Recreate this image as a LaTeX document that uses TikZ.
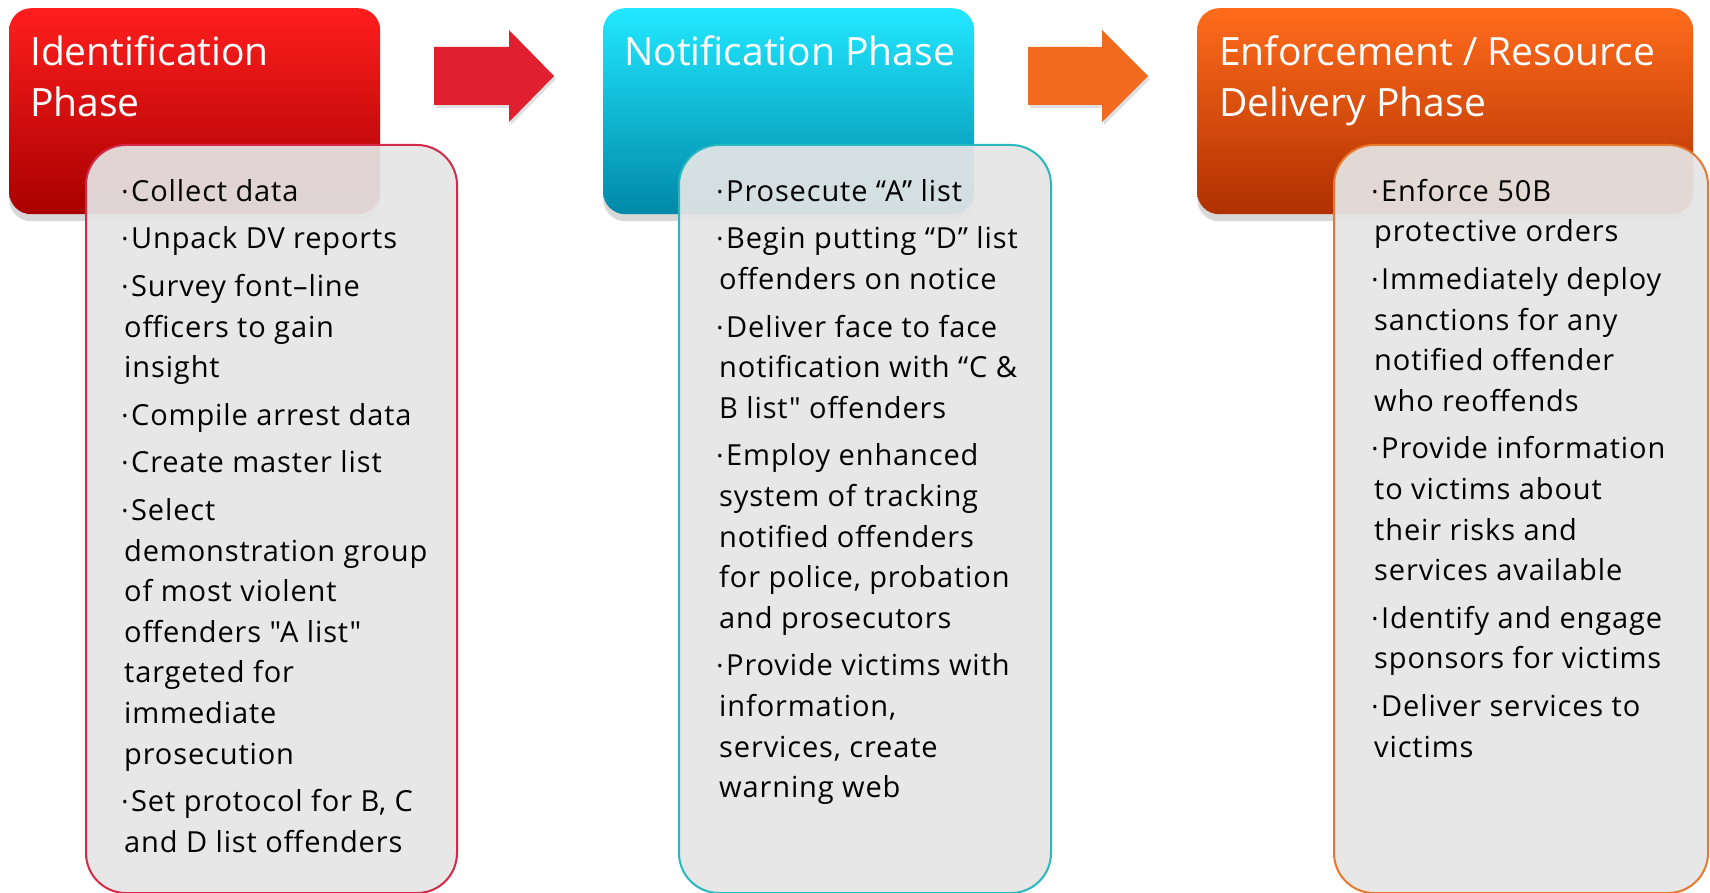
\documentclass[tikz,border=0pt]{standalone}
\usepackage{fontspec}
\newfontfamily\hdrfont{Open Sans}
\newfontfamily\bodyfont{Open Sans}[LetterSpace=3]
\usetikzlibrary{shadows}
\definecolor{redtop}{HTML}{FF1E1E}
\definecolor{redbot}{HTML}{A80000}
\definecolor{cyantop}{HTML}{22E8FF}
\definecolor{cyanbot}{HTML}{0088A8}
\definecolor{orgtop}{HTML}{FF6C1C}
\definecolor{orgbot}{HTML}{B03000}
\definecolor{redline}{HTML}{D42A48}
\definecolor{cyanline}{HTML}{28B8C0}
\definecolor{orgline}{HTML}{E8782E}
\definecolor{redarrow}{HTML}{E0202E}
\definecolor{orgarrow}{HTML}{F26A1E}
\definecolor{bodyfill}{HTML}{E6E6E6}
\newcommand{\bul}{\hspace*{-2pt}\makebox[9pt][l]{\raisebox{4pt}{\fontsize{15}{15}\selectfont\textbullet}}}
\tikzset{
  hdr/.style={rounded corners=22pt, inner sep=0pt, minimum height=206pt, anchor=north west,
    drop shadow={shadow xshift=0pt, shadow yshift=-7pt, opacity=0.3}},
  bodybox/.style={rounded corners=40pt, inner sep=0pt, fill=bodyfill, fill opacity=0.92,
    line width=2pt, minimum width=371pt, minimum height=748pt, anchor=north west},
  hdrtext/.style={anchor=north west, inner sep=0pt, align=left, text=white,
    font=\hdrfont\fontsize{39}{51}\selectfont},
  listtext/.style={anchor=north west, inner sep=0pt, align=left, text=black,
    font=\bodyfont\fontsize{29}{40.6}\selectfont},
  blockarrow/.style={drop shadow={shadow xshift=2pt, shadow yshift=-3pt, opacity=0.25}}
}
\begin{document}
\begin{tikzpicture}[x=1pt,y=-1pt]
\useasboundingbox (0,0) rectangle (1710,893);
\fill[white] (0,0) rectangle (1710,893);

% headers
\node[hdr, minimum width=371pt, top color=redtop, bottom color=redbot] (h1) at (9,8) {};
\node[hdr, minimum width=371pt, top color=cyantop, bottom color=cyanbot] (h2) at (603,8) {};
\node[hdr, minimum width=496pt, top color=orgtop, bottom color=orgbot] (h3) at (1197,8) {};

\node[hdrtext] (ht1) at (30,35) {Identification\\Phase};
\node[hdrtext] (ht2) at (624,35) {Notification Phase};
\node[hdrtext] (ht3) at (1219,35) {Enforcement / Resource\\Delivery Phase};

% block arrows
\coordinate (a1) at (434,47);
\coordinate (a2) at (1028,47);
\fill[redarrow, blockarrow] (a1) -- ++(75,0) -- ++(0,-17) -- ++(45,46) -- ++(-45,46) -- ++(0,-17) -- ++(-75,0) -- cycle;
\fill[orgarrow, blockarrow] (a2) -- ++(74,0) -- ++(0,-17) -- ++(46,46) -- ++(-46,46) -- ++(0,-17) -- ++(-74,0) -- cycle;

% bodies
\node[bodybox, draw=redline] (b1) at (85,144) {};
\node[bodybox, draw=cyanline, minimum width=372pt] (b2) at (678,144) {};
\node[bodybox, draw=orgline, minimum width=374pt] (b3) at (1333,144) {};

\node[listtext] (t1) at (124,179) {\bul Collect data\\[7pt]
\bul Unpack DV reports\\[7pt]
\bul Survey font–line\\ officers to gain\\ insight\\[7pt]
\bul Compile arrest data\\[7pt]
\bul Create master list\\[7pt]
\bul Select\\ demonstration group\\ of most violent\\ offenders "A list"\\ targeted for\\ immediate\\ prosecution\\[7pt]
\bul Set protocol for B, C\\ and D list offenders};

\node[listtext] (t2) at (719,179) {\bul Prosecute “A” list\\[7pt]
\bul Begin putting “D” list\\ offenders on notice\\[7pt]
\bul Deliver face to face\\ notification with “C \&\\ B list" offenders\\[7pt]
\bul Employ enhanced\\ system of tracking\\ notified offenders\\ for police, probation\\ and prosecutors\\[7pt]
\bul Provide victims with\\ information,\\ services, create\\ warning web};

\node[listtext] (t3) at (1374,179) {\bul Enforce 50B\\ protective orders\\[7pt]
\bul Immediately deploy\\ sanctions for any\\ notified offender\\ who reoffends\\[7pt]
\bul Provide information\\ to victims about\\ their risks and\\ services available\\[7pt]
\bul Identify and engage\\ sponsors for victims\\[7pt]
\bul Deliver services to\\ victims};
\end{tikzpicture}
\end{document}
